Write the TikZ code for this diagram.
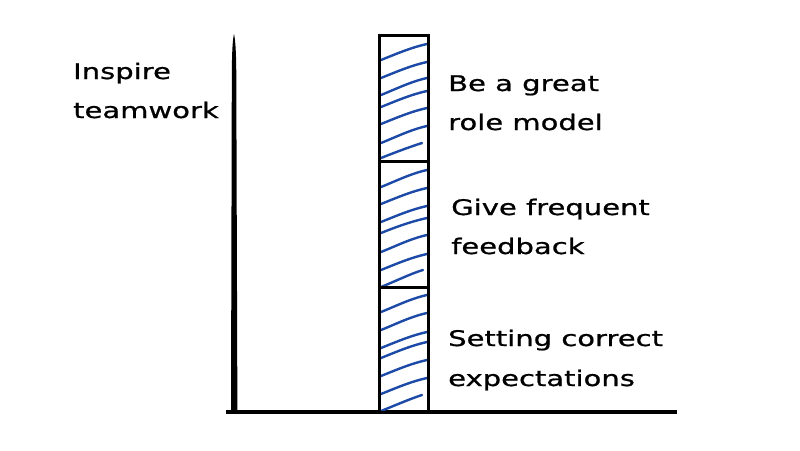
\documentclass[tikz,border=0pt]{standalone}
\usepackage{fontspec}
\setmainfont[FakeStretch=1.35,FakeBold=0.8]{DejaVu Sans}
\definecolor{hatch}{RGB}{28,74,166}
\tikzset{
  lbl/.style={anchor=base west, inner sep=0pt, font=\fontsize{21.5}{26}\selectfont, text=black},
  barline/.style={line width=3pt, draw=black},
  hatchline/.style={draw=hatch, line width=2.4pt, line cap=round},
}
\begin{document}
\begin{tikzpicture}[x=1pt,y=-1pt]
\useasboundingbox (0,0) rectangle (800,450);
% vertical axis (tapered)
\fill[black] (234,34) .. controls (235.5,40) and (236.3,55) .. (236.3,80)
  -- (237.4,413) -- (231,413) -- (231.8,80) .. controls (231.8,55) and (232.5,40) .. (234,34) -- cycle;
% horizontal axis
\coordinate (hx1) at (226,412);
\coordinate (hx2) at (677,412);
\draw[line width=3.5pt] (hx1) -- (hx2);
% hatching
\foreach \l/\r/\xr in {60/44/427,78/62/427,95/78/427,107/91/427,124/108/427,143/126/427,158/143/422,
                       187/170/427,204/188/427,222/206/427,233/218/427,252/235/427,270/254/427,287/270/423,
                       312/295/427,330/313/427,348/332/427,358/342/427,376/360/427,394/378/427,411/395/422}{
  \draw[hatchline] (381,\l) .. controls (396,\l-6) and (411,\r+3.5) .. (\xr,\r);
}
% bar
\coordinate (b1) at (379,35);
\coordinate (b2) at (428,412);
\draw[barline] (b1) rectangle (b2);
\coordinate (d1l) at (379,161); \coordinate (d1r) at (428,161);
\coordinate (d2l) at (379,287); \coordinate (d2r) at (428,287);
\draw[barline] (d1l) -- (d1r);
\draw[barline] (d2l) -- (d2r);
% labels
\node[lbl] (i1) at (73,79) {Inspire};
\node[lbl] (i2) at (73,118) {teamwork};
\node[lbl] (r1) at (448,91) {Be a great};
\node[lbl] (r2) at (448,130) {role model};
\node[lbl] (f1) at (451,215) {Give frequent};
\node[lbl] (f2) at (451,254) {feedback};
\node[lbl] (s1) at (448,346) {Setting correct};
\node[lbl] (s2) at (448,386) {expectations};
\end{tikzpicture}
\end{document}
